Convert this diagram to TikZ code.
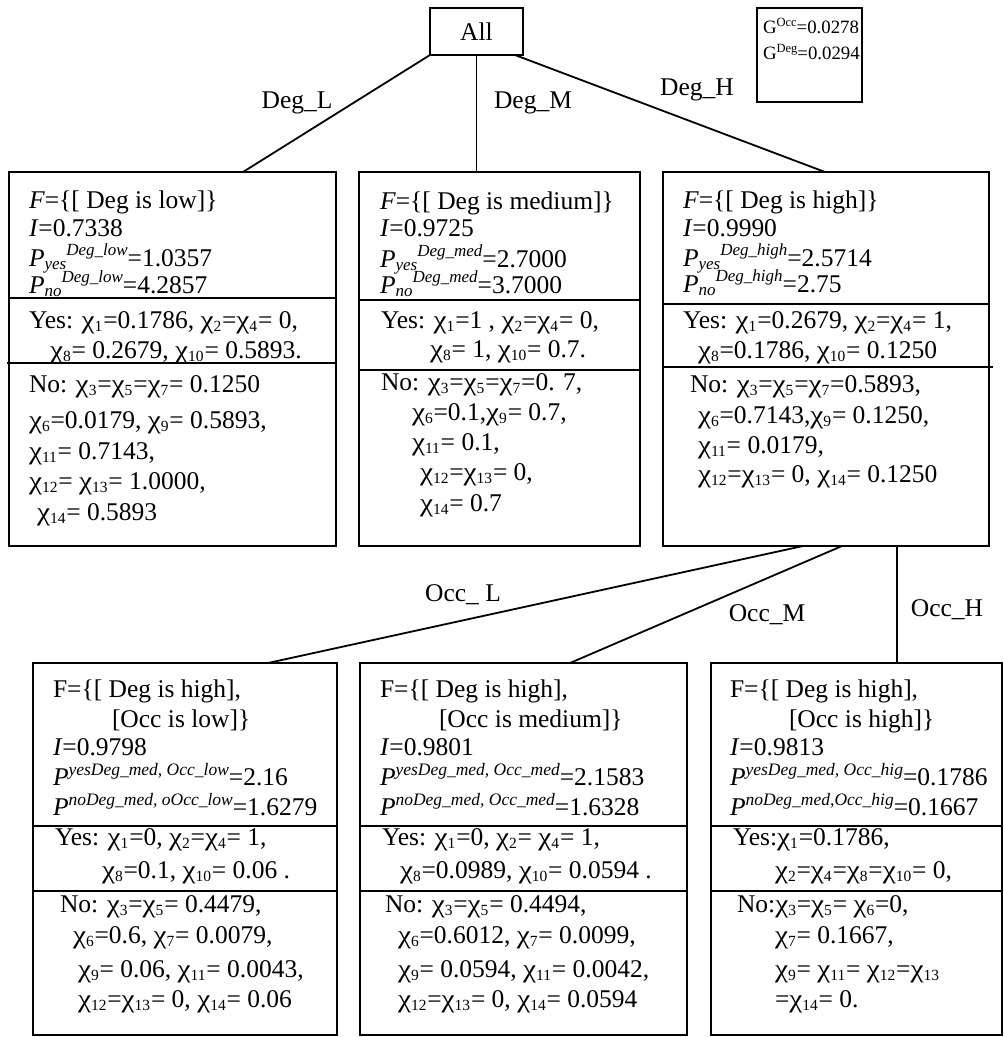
\documentclass[tikz,border=0pt]{standalone}
\usepackage{fontspec}
\usepackage{graphicx}
\setmainfont{Liberation Serif}
\newcommand\cx[1]{\scalebox{1.15}[1]{χ}\raisebox{-3pt}{\fontsize{15.5}{15.5}\selectfont #1}\kern0.8pt}
\newcommand\Pyn[3]{\textit{P}\raisebox{-3pt}{\fontsize{17}{17}\selectfont\itshape #1}\raisebox{11pt}{\fontsize{17}{17}\selectfont\itshape #2}=#3}
\newcommand\Psup[2]{\textit{P}\raisebox{10pt}{\fontsize{17.5}{17.5}\selectfont\itshape #1}=#2}
\newcommand\Gsup[1]{G\raisebox{7pt}{\fontsize{12.5}{12.5}\selectfont #1}}
\begin{document}
\begin{tikzpicture}[x=1pt,y=-1pt,
  font=\fontsize{25.5}{29}\selectfont,
  every path/.style={line width=1.8pt},
  boxnode/.style={draw,line width=1.8pt,inner sep=0pt,outer sep=0pt,anchor=north west},
  txt/.style={anchor=base west,inner sep=0pt,outer sep=0pt},
  gtxt/.style={anchor=base west,inner sep=0pt,outer sep=0pt,font=\fontsize{18.8}{22}\selectfont},
  lab/.style={anchor=center,inner sep=0pt}]
\useasboundingbox (0,0) rectangle (1004,1037);
% root and gain boxes
\node[boxnode,minimum width=93pt,minimum height=47pt] (all) at (430,8) {};
\node[inner sep=0pt] (alltxt) at (476.5,31.5) {All};
\node[boxnode,minimum width=105pt,minimum height=94pt] (gbox) at (757,8) {};
\node[gtxt] (g1) at (763,33) {\Gsup{Occ}=0.0278};
\node[gtxt] (g2) at (763,59) {\Gsup{Deg}=0.0294};
% first level boxes
\node[boxnode,minimum width=327pt,minimum height=374pt] (b1) at (9,172) {};
\node[boxnode,minimum width=281pt,minimum height=374pt] (b2) at (359,172) {};
\node[boxnode,minimum width=326pt,minimum height=374pt] (b3) at (663,172) {};
\draw (b1.west |- 0,298) -- (b1.east |- 0,298);
\draw (7,363) -- (b1.east |- 0,363);
\draw (b2.west |- 0,300) -- (b2.east |- 0,300);
\draw (b2.west |- 0,370) -- (b2.east |- 0,370);
\draw (b3.west |- 0,304) -- (b3.east |- 0,304);
\draw (b3.west |- 0,367) -- (993,367);
% second level boxes
\node[boxnode,minimum width=304pt,minimum height=372pt] (b4) at (33,663) {};
\node[boxnode,minimum width=327pt,minimum height=372pt] (b5) at (360,663) {};
\node[boxnode,minimum width=291pt,minimum height=372pt] (b6) at (711,663) {};
\foreach \b in {b4,b5,b6}{
  \draw (\b.west |- 0,826) -- (\b.east |- 0,826);
  \draw (\b.west |- 0,891) -- (\b.east |- 0,891);
}
% connectors
\coordinate (allR) at (515,55);
\coordinate (b1t) at (243,172);
\coordinate (b3t) at (825,172);
\draw (all.south west) -- (b1t);
\draw (all.south) -- (all.south |- b2.north);
\draw (allR) -- (b3t);
\coordinate (b3l) at (803,546);
\coordinate (b3m) at (842,546);
\coordinate (b3r) at (897,546);
\coordinate (b4t) at (268,663);
\coordinate (b5t) at (570,663);
\draw (b3l) -- (b4t);
\draw (b3m) -- (b5t);
\draw (b3r) -- (b3r |- b6.north);
% edge labels
\node[lab] (lDL) at (297,103) {Deg\_L};
\node[lab] (lDM) at (533,103) {Deg\_M};
\node[lab] (lDH) at (697,90) {Deg\_H};
\node[lab] (lOL) at (463,595) {Occ\_ L};
\node[lab] (lOM) at (767,615) {Occ\_M};
\node[lab] (lOH) at (947,610) {Occ\_H};
% box 1 text
\node[txt] (b1a) at (29,208) {\textit{F}=\{[ Deg is low]\}};
\node[txt] (b1b) at (29,236) {\textit{I}=0.7338};
\node[txt] (b1c) at (29,266) {\Pyn{yes}{Deg\_low}{1.0357}};
\node[txt] (b1d) at (29,293) {\Pyn{no}{Deg\_low}{4.2857}};
\node[txt] (b1e) at (29,328) {Yes: \cx{1}=0.1786, \cx{2}=\cx{4}= 0,};
\node[txt] (b1f) at (50,358) {\cx{8}= 0.2679, \cx{10}= 0.5893.};
\node[txt] (b1g) at (29,392) {No: \cx{3}=\cx{5}=\cx{7}= 0.1250};
\node[txt] (b1h) at (29,428) {\cx{6}=0.0179, \cx{9}= 0.5893,};
\node[txt] (b1i) at (29,459) {\cx{11}= 0.7143,};
\node[txt] (b1j) at (29,489) {\cx{12}= \cx{13}= 1.0000,};
\node[txt] (b1k) at (37,520) {\cx{14}= 0.5893};
% box 2 text
\node[txt] (b2a) at (380,209) {\textit{F}=\{[ Deg is medium]\}};
\node[txt] (b2b) at (380,236) {\textit{I}=0.9725};
\node[txt] (b2c) at (380,267) {\Pyn{yes}{Deg\_med}{2.7000}};
\node[txt] (b2d) at (380,293) {\Pyn{no}{Deg\_med}{3.7000}};
\node[txt] (b2e) at (381,328) {Yes: \cx{1}=1 , \cx{2}=\cx{4}= 0,};
\node[txt] (b2f) at (430,357) {\cx{8}= 1, \cx{10}= 0.7.};
\node[txt] (b2g) at (381,390) {No: \cx{3}=\cx{5}=\cx{7}=0. 7,};
\node[txt] (b2h) at (412,420) {\cx{6}=0.1,\cx{9}= 0.7,};
\node[txt] (b2i) at (412,450) {\cx{11}= 0.1,};
\node[txt] (b2j) at (420,480) {\cx{12}=\cx{13}= 0,};
\node[txt] (b2k) at (420,511) {\cx{14}= 0.7};
% box 3 text
\node[txt] (b3a) at (683,208) {\textit{F}=\{[ Deg is high]\}};
\node[txt] (b3b) at (683,236) {\textit{I}=0.9990};
\node[txt] (b3c) at (683,266) {\Pyn{yes}{Deg\_high}{2.5714}};
\node[txt] (b3d) at (683,292) {\Pyn{no}{Deg\_high}{2.75}};
\node[txt] (b3e) at (683,328) {Yes: \cx{1}=0.2679, \cx{2}=\cx{4}= 1,};
\node[txt] (b3f) at (698,358) {\cx{8}=0.1786, \cx{10}= 0.1250};
\node[txt] (b3g) at (690,392) {No: \cx{3}=\cx{5}=\cx{7}=0.5893,};
\node[txt] (b3h) at (698,423) {\cx{6}=0.7143,\cx{9}= 0.1250,};
\node[txt] (b3i) at (698,453) {\cx{11}= 0.0179,};
\node[txt] (b3j) at (698,482) {\cx{12}=\cx{13}= 0, \cx{14}= 0.1250};
% box 4 text
\node[txt] (b4a) at (53,697) {F=\{[ Deg is high],};
\node[txt] (b4b) at (112,727) {[Occ is low]\}};
\node[txt] (b4c) at (53,755) {\textit{I}=0.9798};
\node[txt] (b4d) at (53,785) {\Psup{yesDeg\_med, Occ\_low}{2.16}};
\node[txt] (b4e) at (53,815) {\Psup{noDeg\_med, oOcc\_low}{1.6279}};
\node[txt] (b4f) at (55,845) {Yes: \cx{1}=0, \cx{2}=\cx{4}= 1,};
\node[txt] (b4g) at (102,878) {\cx{8}=0.1, \cx{10}= 0.06 .};
\node[txt] (b4h) at (60,912) {No: \cx{3}=\cx{5}= 0.4479,};
\node[txt] (b4i) at (73,943) {\cx{6}=0.6, \cx{7}= 0.0079,};
\node[txt] (b4j) at (78,977) {\cx{9}= 0.06, \cx{11}= 0.0043,};
\node[txt] (b4k) at (78,1007) {\cx{12}=\cx{13}= 0, \cx{14}= 0.06};
% box 5 text
\node[txt] (b5a) at (380,697) {F=\{[ Deg is high],};
\node[txt] (b5b) at (439,727) {[Occ is medium]\}};
\node[txt] (b5c) at (380,755) {\textit{I}=0.9801};
\node[txt] (b5d) at (380,785) {\Psup{yesDeg\_med, Occ\_med}{2.1583}};
\node[txt] (b5e) at (380,815) {\Psup{noDeg\_med, Occ\_med}{1.6328}};
\node[txt] (b5f) at (382,845) {Yes: \cx{1}=0, \cx{2}= \cx{4}= 1,};
\node[txt] (b5g) at (400,878) {\cx{8}=0.0989, \cx{10}= 0.0594 .};
\node[txt] (b5h) at (385,912) {No: \cx{3}=\cx{5}= 0.4494,};
\node[txt] (b5i) at (398,943) {\cx{6}=0.6012, \cx{7}= 0.0099,};
\node[txt] (b5j) at (398,977) {\cx{9}= 0.0594, \cx{11}= 0.0042,};
\node[txt] (b5k) at (398,1007) {\cx{12}=\cx{13}= 0, \cx{14}= 0.0594};
% box 6 text
\node[txt] (b6a) at (730,697) {F=\{[ Deg is high],};
\node[txt] (b6b) at (789,727) {[Occ is high]\}};
\node[txt] (b6c) at (730,755) {\textit{I}=0.9813};
\node[txt] (b6d) at (730,785) {\Psup{yesDeg\_med, Occ\_hig}{0.1786}};
\node[txt] (b6e) at (730,815) {\Psup{noDeg\_med,Occ\_hig}{0.1667}};
\node[txt] (b6f) at (733,845) {Yes:\cx{1}=0.1786,};
\node[txt] (b6g) at (775,878) {\cx{2}=\cx{4}=\cx{8}=\cx{10}= 0,};
\node[txt] (b6h) at (737,912) {No:\cx{3}=\cx{5}= \cx{6}=0,};
\node[txt] (b6i) at (775,943) {\cx{7}= 0.1667,};
\node[txt] (b6j) at (775,977) {\cx{9}= \cx{11}= \cx{12}=\cx{13}};
\node[txt] (b6k) at (775,1007) {=\cx{14}= 0.};
\end{tikzpicture}
\end{document}
